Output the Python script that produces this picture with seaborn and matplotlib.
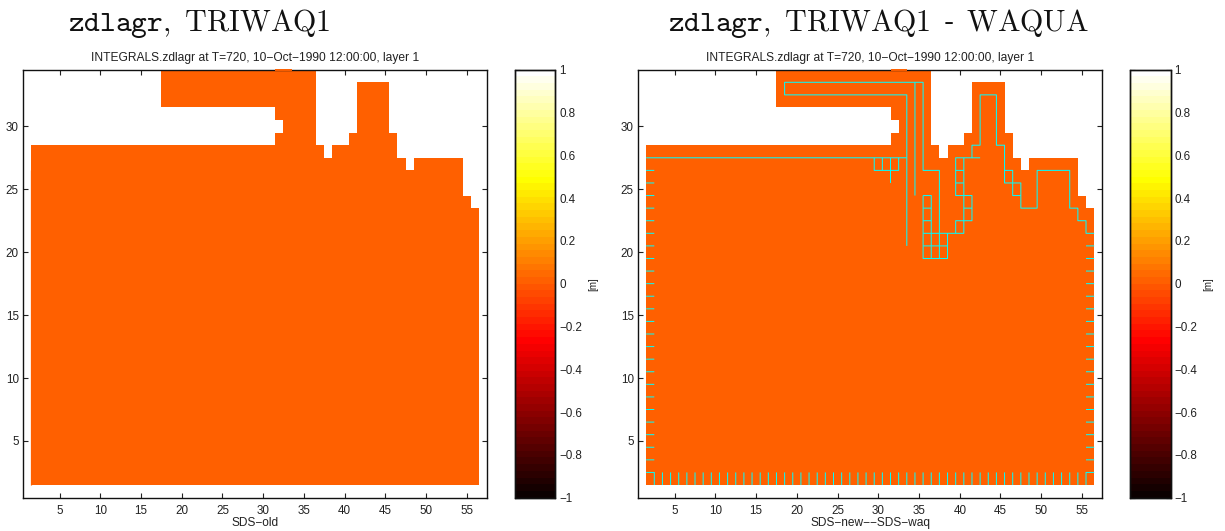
import numpy as np
import pandas as pd
import seaborn as sns
import matplotlib
matplotlib.use("Agg")
import matplotlib.pyplot as plt
from matplotlib.colors import ListedColormap

# ---------- data ----------
x_cells = list(range(0, 58))
y_cells = list(range(0, 36))
first_col = 2
# top wet cell of every column x = 2..56
column_tops = [28]*16 + [34]*19 + [28, 27, 28, 28, 29, 33, 33, 33, 33, 29, 27, 26,
                                   27, 27, 27, 27, 27, 27, 24, 23]
dry_block_x = (18, 31)
dry_block_y = (29, 31)
dry_cell = (32, 30)
field_value = 0.0

x_ticks = [5, 10, 15, 20, 25, 30, 35, 40, 45, 50, 55]
y_ticks = [5, 10, 15, 20, 25, 30]
cbar_ticks = [-1, -0.8, -0.6, -0.4, -0.2, 0, 0.2, 0.4, 0.6, 0.8, 1]
cbar_labels = ["\u22121", "\u22120.8", "\u22120.6", "\u22120.4", "\u22120.2", "0",
               "0.2", "0.4", "0.6", "0.8", "1"]

contours = [
    [(33.5, 20.5), (33.5, 32.5), (18.5, 32.5), (18.5, 33.5), (35.5, 33.5), (35.5, 26.5),
     (37.5, 26.5), (37.5, 19.5)],
    [(34.5, 33.5), (34.5, 24.5)],
    [(1.5, 27.5), (33.5, 27.5)],
    [(29.5, 27.5), (29.5, 26.5), (32.5, 26.5), (32.5, 27.5)],
    [(30.5, 27.5), (30.5, 26.5)],
    [(31.5, 27.5), (31.5, 25.5)],
    [(35.5, 24.5), (36.5, 24.5), (36.5, 19.5)],
    [(35.5, 24.5), (35.5, 19.5), (38.5, 19.5), (38.5, 21.5)],
    [(35.5, 23.5), (36.5, 23.5)],
    [(35.5, 22.5), (36.5, 22.5)],
    [(35.5, 21.5), (39.5, 21.5), (39.5, 22.5), (41.5, 22.5), (41.5, 24.5), (39.5, 24.5),
     (39.5, 27.5), (41.5, 27.5), (41.5, 28.5), (42.5, 28.5), (42.5, 32.5), (44.5, 32.5),
     (44.5, 28.5), (45.5, 28.5), (45.5, 25.5), (47.5, 25.5), (47.5, 23.5), (49.5, 23.5),
     (49.5, 26.5), (53.5, 26.5), (53.5, 23.5), (54.5, 23.5), (54.5, 22.5), (55.5, 22.5),
     (55.5, 21.5), (56.5, 21.5)],
    [(35.5, 20.5), (38.5, 20.5)],
    [(39.5, 21.5), (40.5, 21.5), (40.5, 27.5)],
    [(40.5, 23.5), (41.5, 23.5)],
    [(39.5, 26.5), (40.5, 26.5)],
    [(39.5, 25.5), (40.5, 25.5)],
    [(41.5, 27.5), (42.5, 27.5)],
    [(45.5, 26.5), (46.5, 26.5), (46.5, 24.5), (47.5, 24.5)],
    [(1.5, 2.5), (2.5, 2.5), (2.5, 1.5)],
    [(55.5, 1.5), (55.5, 2.5), (56.5, 2.5)],
]
left_stubs = [y + 0.5 for y in range(3, 27)]
right_stubs = [y + 0.5 for y in range(3, 21)]
bottom_stubs = [x + 0.5 for x in range(3, 55)]

# ---------- build field ----------
grid = np.full((len(y_cells), len(x_cells)), np.nan)
for i, top in enumerate(column_tops):
    grid[2:top + 1, first_col + i] = field_value
grid[dry_block_y[0]:dry_block_y[1] + 1, dry_block_x[0]:dry_block_x[1] + 1] = np.nan
grid[dry_cell[1], dry_cell[0]] = np.nan
field = pd.DataFrame(grid, index=y_cells, columns=x_cells)

# MATLAB-style 'hot' with 64 steps
n = 64
r = np.clip(np.arange(1, n + 1) / 24, 0, 1)
g = np.clip((np.arange(1, n + 1) - 24) / 24, 0, 1)
b = np.clip((np.arange(1, n + 1) - 48) / 16, 0, 1)
hot64 = ListedColormap(np.column_stack([r, g, b]))

sns.set_theme(style="ticks")
plt.rcParams["font.family"] = ["Liberation Sans", "DejaVu Sans"]
plt.rcParams["mathtext.fontset"] = "cm"
plt.rcParams["axes.unicode_minus"] = True

W, H = 1225, 531
fig = plt.figure(figsize=(W / 100, H / 100), dpi=100)
TOP, BOT = 69.7, 497.6


def box(x0, x1):
    return [x0 / W, 1 - BOT / H, (x1 - x0) / W, (BOT - TOP) / H]


def panel(ax_box, cb_box, xlabel, big, big_x):
    ax = fig.add_axes(box(*ax_box))
    cax = fig.add_axes(box(*cb_box))
    sns.heatmap(field, ax=ax, cbar_ax=cax, cmap=hot64, vmin=-1, vmax=1,
                xticklabels=False, yticklabels=False)
    ax.set_xlim(1, 58)
    ax.set_ylim(1, 35)
    ax.set_xticks([v + 0.5 for v in x_ticks], labels=[str(v) for v in x_ticks])
    ax.set_yticks([v + 0.5 for v in y_ticks], labels=[str(v) for v in y_ticks])
    ax.tick_params(direction="in", length=3.5, width=0.8, labelsize=8.4, color="#222222",
                   labelcolor="#222222", top=True, right=True, labelrotation=0)
    ax.tick_params(axis="x", pad=5.5)
    ax.tick_params(axis="y", pad=3)
    for s in ax.spines.values():
        s.set_visible(True)
        s.set_linewidth(1.0)
        s.set_color("#111111")
    ax.set_xlabel(xlabel, fontsize=8.6, labelpad=0, color="#222222")
    ax.set_ylabel("")
    ax.set_title("INTEGRALS.zdlagr at T=720, 10\u2212Oct\u22121990 12:00:00, layer 1",
                 fontsize=8.65, pad=6.5, color="#222222")
    cax.set_yticks(cbar_ticks, labels=cbar_labels)
    cax.tick_params(direction="in", length=3.5, width=0.8, labelsize=8.4, left=True, right=True,
                    color="#111111", labelcolor="#222222", pad=3)
    cax.yaxis.set_ticks_position("both")
    cax.tick_params(labelleft=False, labelright=True)
    for s in cax.spines.values():
        s.set_visible(True)
        s.set_linewidth(1.0)
        s.set_color("#111111")
    cax.yaxis.set_label_position("right")
    cax.set_ylabel("[m]", fontsize=7, labelpad=4.2, color="#222222")
    fig.text(big_x / W, 1 - 31 / H, big, fontsize=21.6, color="#111111",
             ha="left", va="baseline")
    ax.hlines(35, 32, 34, color=hot64(0.5), lw=1.4, zorder=3, clip_on=False)
    return ax


ax1 = panel((23, 487), (515, 555), "SDS\u2212old",
            r"$\mathtt{zdlagr}\mathrm{,\ TRIWAQ1}$", 68)
ax2 = panel((638, 1102.3), (1129.5, 1170.5), "SDS\u2212new\u2212\u2212SDS\u2212waq",
            r"$\mathtt{zdlagr}\mathrm{,\ TRIWAQ1}\,$ - $\,\mathrm{WAQUA}$", 668)

# the old-run field starts a fraction further left below the top rows
ax1.vlines(1.94, 2, 27, color=hot64(0.5), lw=0.9, zorder=2)

style = dict(color="#00FFFF", lw=0.72, snap=False, solid_capstyle="butt", zorder=2)
for line in contours:
    xs, ys = zip(*line)
    ax2.plot(np.array(xs) + 0.5, np.array(ys) + 0.5, **style)
for y in left_stubs:
    ax2.plot([2, 3], [y + 0.5, y + 0.5], **style)
for y in right_stubs:
    ax2.plot([56, 57], [y + 0.5, y + 0.5], **style)
for x in bottom_stubs:
    ax2.plot([x + 0.5, x + 0.5], [2, 3], **style)

fig.savefig("out.png", dpi=100)
